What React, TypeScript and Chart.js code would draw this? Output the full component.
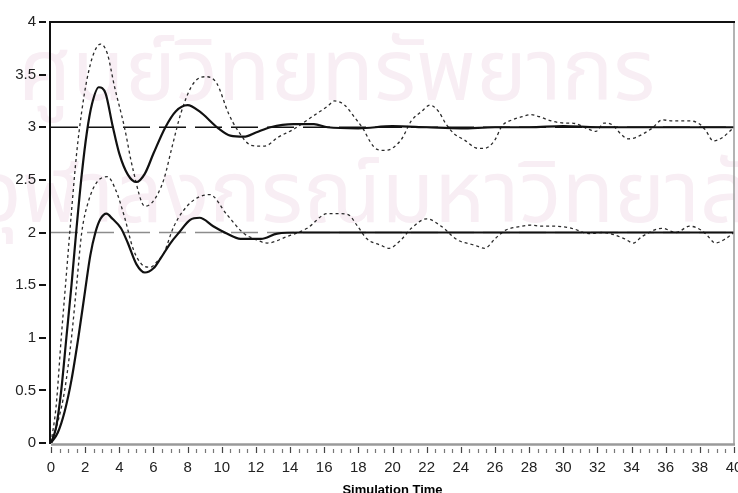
import { useEffect, useRef } from 'react';
import { Chart, registerables } from 'chart.js';

Chart.register(...registerables);

// Setpoint references
const refTime = [0, 40];
const setpointHigh = [3, 3];
const setpointLow = [2, 2];

// Response settling at 3 (solid)
const highSolidTime = [0, 0.3, 0.6, 0.9, 1.2, 1.5, 1.8, 2.1, 2.4, 2.8, 3.2, 3.6, 4.0, 4.5, 5.0, 5.5, 6.0, 6.7, 7.3, 8.0, 8.7, 9.8, 10.5, 11.3, 12.0, 12.85, 14.2, 15.4, 16.2, 18, 20, 22, 24, 26, 28, 30, 32, 34, 36, 38, 40];
const highSolidValue = [0, 0.15, 0.5, 1.0, 1.5, 2.05, 2.55, 2.95, 3.22, 3.38, 3.32, 3.02, 2.75, 2.55, 2.48, 2.56, 2.75, 3.0, 3.15, 3.21, 3.15, 2.99, 2.92, 2.91, 2.95, 3.0, 3.03, 3.03, 3.0, 2.99, 3.01, 3.0, 2.99, 3.0, 3.0, 3.01, 3.0, 3.0, 3.0, 3.0, 3.0];

// Response settling at 3 (dotted)
const highDotTime = [0, 0.3, 0.6, 0.9, 1.2, 1.5, 1.8, 2.1, 2.5, 2.9, 3.3, 3.7, 4.3, 4.8, 5.5, 6.0, 6.6, 7.1, 7.6, 8.2, 8.7, 9.1, 9.7, 10.4, 10.9, 11.7, 12.3, 12.7, 13.25, 14.2, 15.2, 16.2, 16.6, 17.2, 17.75, 18.3, 18.7, 19.1, 19.6, 20.5, 21.1, 21.7, 22.2, 22.7, 23.1, 23.6, 24.2, 25.0, 25.4, 26.0, 26.4, 27.0, 27.6, 28.1, 28.6, 29.3, 30.1, 30.5, 31.5, 31.9, 32.4, 32.9, 33.35, 33.8, 34.2, 34.7, 35.2, 35.8, 36.4, 37.4, 37.9, 38.3, 38.8, 39.3, 40];
const highDotValue = [0, 0.35, 1.0, 1.6, 2.2, 2.75, 3.15, 3.45, 3.7, 3.79, 3.7, 3.4, 3.0, 2.6, 2.25, 2.3, 2.5, 2.82, 3.13, 3.38, 3.47, 3.48, 3.42, 3.13, 2.98, 2.83, 2.82, 2.83, 2.9, 2.98, 3.09, 3.2, 3.25, 3.21, 3.1, 2.98, 2.86, 2.79, 2.78, 2.88, 3.06, 3.15, 3.21, 3.15, 3.04, 2.94, 2.88, 2.8, 2.8, 2.88, 3.01, 3.07, 3.1, 3.12, 3.1, 3.06, 3.04, 3.04, 2.98, 2.96, 3.04, 3.02, 2.94, 2.89, 2.9, 2.94, 2.99, 3.07, 3.06, 3.06, 3.04, 2.98, 2.87, 2.9, 3.0];

// Response settling at 2 (solid)
const lowSolidTime = [0, 0.4, 0.8, 1.2, 1.6, 2.0, 2.3, 2.6, 2.9, 3.25, 3.6, 4.1, 4.5, 5.0, 5.5, 6.0, 6.4, 7.0, 7.5, 8.15, 8.7, 9.5, 10.3, 11.1, 12.3, 13.25, 14.6, 16, 18, 20, 22, 24, 26, 28, 30, 32, 34, 36, 38, 40];
const lowSolidValue = [0, 0.1, 0.3, 0.6, 1.0, 1.45, 1.78, 2.0, 2.13, 2.18, 2.13, 2.04, 1.9, 1.7, 1.62, 1.66, 1.75, 1.9, 2.0, 2.12, 2.14, 2.06, 1.99, 1.94, 1.94, 1.99, 2.0, 2.0, 2.0, 2.0, 2.0, 2.0, 2.0, 2.0, 2.0, 2.0, 2.0, 2.0, 2.0, 2.0];

// Response settling at 2 (dotted)
const lowDotTime = [0, 0.4, 0.8, 1.2, 1.5, 1.8, 2.2, 2.7, 3.3, 3.8, 4.3, 4.8, 5.3, 5.8, 6.3, 6.6, 7.2, 8.15, 9.3, 10.3, 11.3, 11.9, 12.66, 13.8, 15.0, 16.2, 16.8, 17.4, 17.95, 18.5, 19.3, 19.8, 20.5, 21.1, 22.0, 22.85, 23.8, 24.8, 25.4, 26.0, 26.6, 27.6, 28.1, 28.7, 29.4, 30.5, 31.5, 32.3, 33.6, 34.1, 34.6, 35.8, 36.6, 37.4, 38.1, 38.5, 38.9, 39.5, 40];
const lowDotValue = [0, 0.2, 0.5, 1.0, 1.5, 2.0, 2.3, 2.48, 2.53, 2.4, 2.15, 1.85, 1.7, 1.67, 1.74, 1.8, 2.06, 2.28, 2.36, 2.17, 1.99, 1.94, 1.9, 1.96, 2.04, 2.18, 2.18, 2.17, 2.06, 1.94, 1.88, 1.85, 1.93, 2.04, 2.13, 2.06, 1.93, 1.88, 1.85, 1.94, 2.02, 2.06, 2.07, 2.06, 2.06, 2.04, 1.99, 2.0, 1.94, 1.9, 1.96, 2.04, 2.0, 2.06, 2.02, 1.96, 1.9, 1.94, 2.0];

const watermarkLines = ['ศูนย์วิทยทรัพยากร', 'จุฬาลงกรณ์มหาวิทยาลัย'];

const pts = (t: number[], v: number[]) => t.map((x, i) => ({ x, y: v[i] }));

const TICK_FONT = '"Liberation Sans", Arial, sans-serif';

// Background watermark, frame and axis tick marks
const framePlugin = {
  id: 'frame',
  beforeDraw(chart: any) {
    const { ctx, width, height } = chart;
    ctx.save();
    ctx.fillStyle = '#ffffff';
    ctx.fillRect(0, 0, width, height);
    ctx.fillStyle = '#f8eef4';
    ctx.textBaseline = 'alphabetic';
    ctx.textAlign = 'left';
    ctx.font = '86px "Noto Sans Thai", "Noto Sans", sans-serif';
    ctx.fillText(watermarkLines[0], 18, 100);
    ctx.fillText(watermarkLines[1], -24, 222);
    ctx.restore();
  },
  afterDraw(chart: any) {
    const { ctx, chartArea: a, scales } = chart;
    const xs = scales.x;
    const ys = scales.y;
    ctx.save();
    // frame
    ctx.lineCap = 'butt';
    ctx.strokeStyle = '#9a9a9a';
    ctx.lineWidth = 1.5;
    ctx.beginPath();
    ctx.moveTo(a.right, a.top);
    ctx.lineTo(a.right, a.bottom + 1);
    ctx.stroke();
    ctx.lineWidth = 2.5;
    ctx.beginPath();
    ctx.moveTo(a.left, a.bottom + 1.5);
    ctx.lineTo(a.right + 1, a.bottom + 1.5);
    ctx.stroke();
    ctx.strokeStyle = '#111';
    ctx.lineWidth = 2;
    ctx.beginPath();
    ctx.moveTo(a.left - 1, a.bottom + 1);
    ctx.lineTo(a.left - 1, a.top);
    ctx.lineTo(a.right + 1, a.top);
    ctx.stroke();
    // y ticks
    ctx.lineWidth = 2;
    for (let v = 0; v <= 4.0001; v += 0.5) {
      const y = Math.round(ys.getPixelForValue(v));
      ctx.beginPath();
      ctx.moveTo(a.left - 12, y);
      ctx.lineTo(a.left - 5, y);
      ctx.stroke();
    }
    // x ticks
    for (let i = 0; i <= 80; i++) {
      const v = i * 0.5;
      const x = Math.round(xs.getPixelForValue(v)) + 0.5;
      const major = i % 4 === 0;
      ctx.strokeStyle = major ? '#444' : '#777';
      ctx.lineWidth = 1.2;
      ctx.beginPath();
      ctx.moveTo(x, a.bottom + (major ? 4 : 6));
      ctx.lineTo(x, a.bottom + 10);
      ctx.stroke();
    }
    ctx.restore();
  },
};

export default function App() {
  const canvasRef = useRef<HTMLCanvasElement | null>(null);

  useEffect(() => {
    if (!canvasRef.current) return;
    const common = { showLine: true, pointRadius: 0, fill: false, cubicInterpolationMode: 'monotone' as const };
    const chart = new Chart(canvasRef.current, {
      type: 'scatter',
      data: {
        datasets: [
          { ...common, label: 'y1', data: pts(highSolidTime, highSolidValue), borderColor: '#111', borderWidth: 2.2, order: 0 },
          { ...common, label: 'y2', data: pts(lowSolidTime, lowSolidValue), borderColor: '#111', borderWidth: 2.2, order: 0 },
          { ...common, label: 'y1 (dotted)', data: pts(highDotTime, highDotValue), borderColor: '#2a2a2a', borderWidth: 1.3, borderDash: [3, 3], order: 1 },
          { ...common, label: 'y2 (dotted)', data: pts(lowDotTime, lowDotValue), borderColor: '#2a2a2a', borderWidth: 1.3, borderDash: [3, 3], order: 1 },
          { ...common, label: 'r1', data: pts(refTime, setpointHigh), borderColor: '#111', borderWidth: 1.6, borderDash: [27, 9], order: 2 },
          { ...common, label: 'r2', data: pts(refTime, setpointLow), borderColor: '#8c8c8c', borderWidth: 1.6, borderDash: [27, 9], order: 2 },
        ],
      },
      options: {
        animation: false,
        responsive: false,
        maintainAspectRatio: false,
        layout: { padding: { top: 22, right: 4, left: 0, bottom: 0 } },
        plugins: { legend: { display: false }, tooltip: { enabled: false }, title: { display: false } },
        scales: {
          x: {
            type: 'linear',
            min: 0,
            max: 40,
            grid: { display: false, drawTicks: false },
            border: { display: false },
            ticks: { stepSize: 2, padding: 16, color: '#222', font: { family: TICK_FONT, size: 15 }, maxRotation: 0, autoSkip: false },
            title: { display: true, text: 'Simulation Time', color: '#000', font: { family: TICK_FONT, size: 13, weight: 'bold' }, padding: { top: 0, bottom: -5 } },
            afterFit(scale: any) {
              scale.height = 50;
              scale.paddingLeft = 0;
              scale.paddingRight = 0;
            },
          },
          y: {
            type: 'linear',
            min: 0,
            max: 4,
            grid: { display: false, drawTicks: false },
            border: { display: false },
            ticks: { stepSize: 0.5, padding: 15, color: '#222', font: { family: TICK_FONT, size: 15 }, callback: (v: any) => String(v) },
            afterFit(scale: any) {
              scale.width = 51;
              scale.paddingTop = 0;
              scale.paddingBottom = 0;
            },
          },
        },
      },
      plugins: [framePlugin],
    });
    return () => chart.destroy();
  }, []);

  return (
    <div style={{ position: 'absolute', left: 0, top: 0, width: 738, height: 493, background: '#fff' }}>
      <canvas ref={canvasRef} width={738} height={493} style={{ display: 'block' }} />
    </div>
  );
}
